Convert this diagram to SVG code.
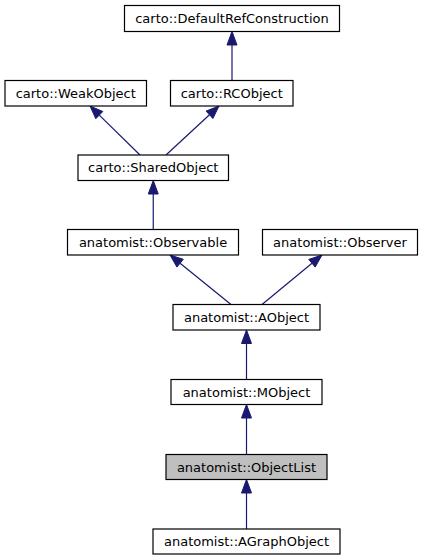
<svg xmlns="http://www.w3.org/2000/svg" width="423" height="560" viewBox="0 0 423 560">
<style>
.box{fill:#ffffff;stroke:#000000;stroke-width:1.2}
.cur{fill:#bfbfbf;stroke:#000000;stroke-width:1.2}
.lbl{font-family:"DejaVu Sans",sans-serif;font-size:13px;fill:#000000;text-anchor:middle}
.edge{stroke:#191970;stroke-width:1.2;fill:none}
.head{fill:#191970;stroke:#191970;stroke-width:1}
</style>
<rect width="423" height="560" fill="#ffffff"/>
<g id="edges">
<path class="edge" d="M232,80.5 L232,45"/>
<polygon class="head" points="232,31.5 227,45 237,45"/>
<path class="edge" d="M140,155 L99.3,115.1"/>
<polygon class="head" points="90,106 102.8,111.5 95.8,118.7"/>
<path class="edge" d="M166,155 L209.5,114.8"/>
<polygon class="head" points="219,106 212.9,118.5 206.1,111.1"/>
<path class="edge" d="M153.25,229.5 L153.25,194"/>
<polygon class="head" points="153.25,180.5 148.25,194 158.25,194"/>
<path class="edge" d="M231,304.5 L180.1,263.2"/>
<polygon class="head" points="170,255 183.25,259.3 176.95,267.1"/>
<path class="edge" d="M262,304.5 L312,263.3"/>
<polygon class="head" points="322,255 315.2,267.1 308.8,259.4"/>
<path class="edge" d="M246.5,379.5 L246.5,343.5"/>
<polygon class="head" points="246.5,330 241.5,343.5 251.5,343.5"/>
<path class="edge" d="M246.5,454.5 L246.5,418"/>
<polygon class="head" points="246.5,404.5 241.5,418 251.5,418"/>
<path class="edge" d="M246.5,529 L246.5,493"/>
<polygon class="head" points="246.5,479.5 241.5,493 251.5,493"/>
</g>
<g id="DefaultRefConstruction"><rect class="box" x="124.5" y="5.5" width="215" height="26"/><text class="lbl" x="232" y="22.8">carto::DefaultRefConstruction</text></g>
<g id="WeakObject"><rect class="box" x="5" y="80.5" width="141.5" height="25.5"/><text class="lbl" x="75.75" y="97.8">carto::WeakObject</text></g>
<g id="RCObject"><rect class="box" x="170.5" y="80.5" width="122.5" height="25.5"/><text class="lbl" x="231.75" y="97.8">carto::RCObject</text></g>
<g id="SharedObject"><rect class="box" x="78" y="155" width="150.5" height="25.5"/><text class="lbl" x="153.25" y="172.3">carto::SharedObject</text></g>
<g id="Observable"><rect class="box" x="67.5" y="229.5" width="171" height="25.5"/><text class="lbl" x="153" y="246.8">anatomist::Observable</text></g>
<g id="Observer"><rect class="box" x="262.5" y="229.5" width="155" height="25.5"/><text class="lbl" x="340" y="246.8">anatomist::Observer</text></g>
<g id="AObject"><rect class="box" x="173" y="304.5" width="147" height="25.5"/><text class="lbl" x="246.5" y="321.8">anatomist::AObject</text></g>
<g id="MObject"><rect class="box" x="171" y="379.5" width="151" height="25"/><text class="lbl" x="246.5" y="396.8">anatomist::MObject</text></g>
<g id="ObjectList"><rect class="cur" x="166" y="454.5" width="161" height="25"/><text class="lbl" x="246.5" y="471.8">anatomist::ObjectList</text></g>
<g id="AGraphObject"><rect class="box" x="153" y="529" width="187" height="25"/><text class="lbl" x="246.5" y="546.3">anatomist::AGraphObject</text></g>
</svg>
